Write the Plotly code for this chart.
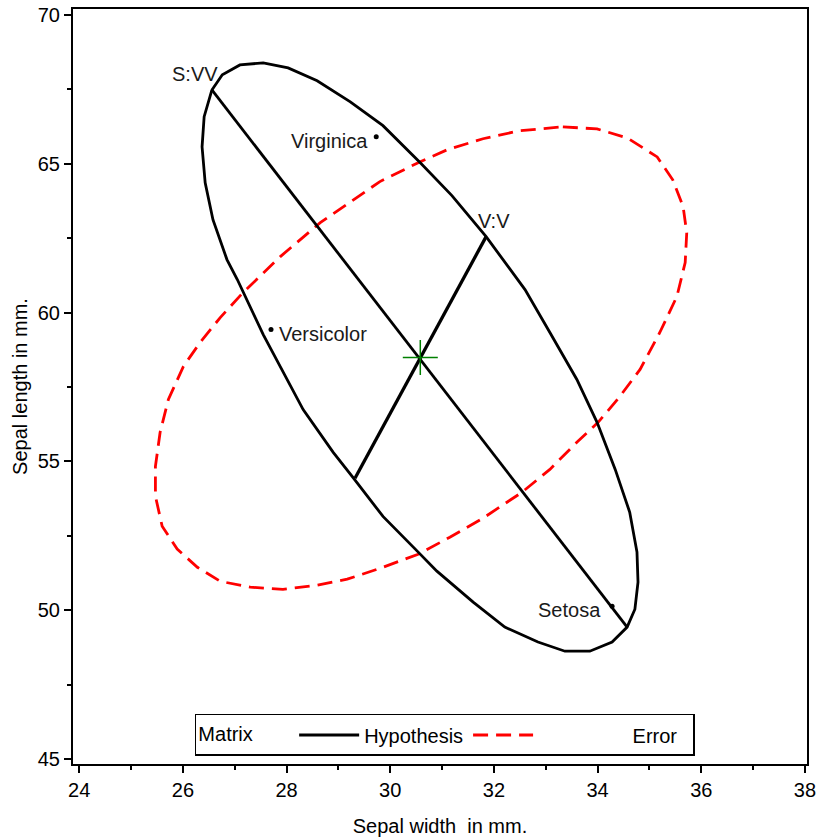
import plotly.graph_objects as go

# Hypothesis (H) ellipse vertices
hyp_x = [26.56, 26.76, 27.10, 27.55, 28.03, 28.59, 29.23, 29.86, 30.58, 31.19,
         31.85, 32.60, 33.08, 33.60, 33.99, 34.34, 34.62, 34.76, 34.78, 34.72,
         34.57, 34.28, 33.85, 33.37, 32.85, 32.21, 31.60, 30.90, 30.54, 29.86,
         29.28, 28.90, 28.32, 27.55, 27.05, 26.85, 26.58, 26.43, 26.37, 26.41, 26.56]
hyp_y = [67.48, 67.99, 68.32, 68.39, 68.22, 67.79, 67.08, 66.28, 65.03, 63.93,
         62.55, 60.77, 59.33, 57.75, 56.31, 54.73, 53.29, 51.95, 50.94, 50.03,
         49.43, 48.93, 48.62, 48.62, 48.93, 49.43, 50.27, 51.31, 51.95, 53.15,
         54.46, 55.30, 56.74, 59.26, 61.11, 61.78, 63.12, 64.36, 65.57, 66.58, 67.48]

# Error (E) ellipse vertices
err_x = [33.33, 33.99, 34.57, 35.15, 35.45, 35.65, 35.72, 35.69, 35.53, 35.20,
         34.82, 34.43, 34.01, 33.60, 33.08, 32.54, 31.79, 31.15, 30.54, 29.86,
         29.17, 28.59, 27.93, 27.30, 26.72, 26.28, 25.89, 25.60, 25.47, 25.47,
         25.56, 25.72, 26.01, 26.33, 26.72, 27.16, 27.88, 28.65, 29.80, 30.58,
         31.10, 31.79, 32.50, 33.33]
err_y = [66.24, 66.17, 65.87, 65.23, 64.46, 63.56, 62.68, 61.68, 60.54, 59.33,
         58.09, 57.18, 56.31, 55.64, 54.73, 53.96, 53.09, 52.45, 51.88, 51.44,
         51.04, 50.84, 50.70, 50.77, 50.97, 51.44, 52.05, 52.82, 53.83, 54.83,
         55.97, 57.08, 58.19, 58.99, 59.83, 60.67, 61.88, 63.02, 64.40, 65.07,
         65.47, 65.84, 66.11, 66.24]

# Canonical axes of H ellipse
major_x = [26.56, 34.57]
major_y = [67.48, 49.43]
minor_x = [31.85, 29.32]
minor_y = [62.55, 54.43]
axis_labels = ["S:VV", "V:V"]

# Grand mean
center_x = [30.58]
center_y = [58.49]

# Group means
groups = ["Virginica", "Versicolor", "Setosa"]
group_x = [29.73, 27.70, 34.28]
group_y = [65.91, 59.43, 50.13]

FONT = "Liberation Sans, Arial, sans-serif"
FS = 20
NB = "\u00a0"

fig = go.Figure()
fig.add_trace(go.Scatter(x=err_x, y=err_y, mode="lines", name=NB * 17 + "Error" + NB * 2,
                         line=dict(color="#ff0000", width=2.8, dash="15px,8px"),
                         legendrank=2))
fig.add_trace(go.Scatter(x=hyp_x, y=hyp_y, mode="lines", name="Hypothesis",
                         line=dict(color="black", width=2.8), legendrank=1))
fig.add_trace(go.Scatter(x=major_x, y=major_y, mode="lines", showlegend=False,
                         line=dict(color="black", width=2.8)))
fig.add_trace(go.Scatter(x=minor_x, y=minor_y, mode="lines", showlegend=False,
                         line=dict(color="black", width=3.3)))
fig.add_trace(go.Scatter(x=center_x, y=center_y, mode="markers", showlegend=False,
                         marker=dict(symbol="cross-thin-open", size=25, color="#008000",
                                     line=dict(color="#008000", width=1.5))))
fig.add_trace(go.Scatter(x=group_x, y=group_y, mode="markers", showlegend=False,
                         marker=dict(symbol="circle", size=5, color="black")))

annots = []
shifts = {"Virginica": ("right", -6, -4), "Versicolor": ("left", 6, -4),
          "Setosa": ("right", -9, -4)}
for g, gx, gy in zip(groups, group_x, group_y):
    anc, xs, ys = shifts[g]
    annots.append(dict(x=gx, y=gy, text=g, showarrow=False, xanchor=anc,
                       yanchor="middle", xshift=xs, yshift=ys,
                       font=dict(family=FONT, size=FS, color="#1a1a1a")))
annots.append(dict(x=major_x[0], y=major_y[0], text=axis_labels[0], showarrow=False,
                   xanchor="center", yanchor="middle", xshift=-17, yshift=16,
                   font=dict(family=FONT, size=FS, color="#1a1a1a")))
annots.append(dict(x=minor_x[0], y=minor_y[0], text=axis_labels[1], showarrow=False,
                   xanchor="center", yanchor="middle", xshift=8, yshift=16,
                   font=dict(family=FONT, size=FS, color="#1a1a1a")))

axis_common = dict(showline=True, mirror=True, linecolor="black", linewidth=2,
                   ticks="outside", tickcolor="black", tickwidth=1.5, ticklen=7,
                   showgrid=False, zeroline=False, automargin=False,
                   tickfont=dict(family=FONT, size=FS, color="black"))

fig.update_layout(
    width=817, height=837,
    margin=dict(l=73, r=10, t=9, b=73),
    paper_bgcolor="white", plot_bgcolor="white",
    font=dict(family=FONT, size=FS, color="black"),
    xaxis=dict(range=[23.88, 38.04], tick0=24, dtick=2,
               minor=dict(ticks="outside", dtick=1, ticklen=4, tickcolor="black", tickwidth=1.5),
               title=dict(text="Sepal width  in mm.", standoff=19,
                          font=dict(family=FONT, size=FS)),
               **axis_common),
    yaxis=dict(range=[44.83, 70.2], tick0=45, dtick=5,
               minor=dict(ticks="outside", dtick=2.5, ticklen=4, tickcolor="black", tickwidth=1.5),
               title=dict(text="Sepal length in mm.", standoff=5,
                          font=dict(family=FONT, size=FS)),
               **axis_common),
    legend=dict(orientation="h", x=0.166, y=0.0106, xanchor="left", yanchor="bottom",
                bordercolor="black", borderwidth=1.5, bgcolor="white",
                title=dict(text="Matrix" + NB * 6, side="left",
                           font=dict(family=FONT, size=FS)),
                font=dict(family=FONT, size=FS), itemwidth=60,
                traceorder="normal"),
    annotations=annots,
)

fig.write_html("out.html", config={"displayModeBar": False},
               post_script="document.body.style.margin='0px';document.body.style.padding='0px';")
